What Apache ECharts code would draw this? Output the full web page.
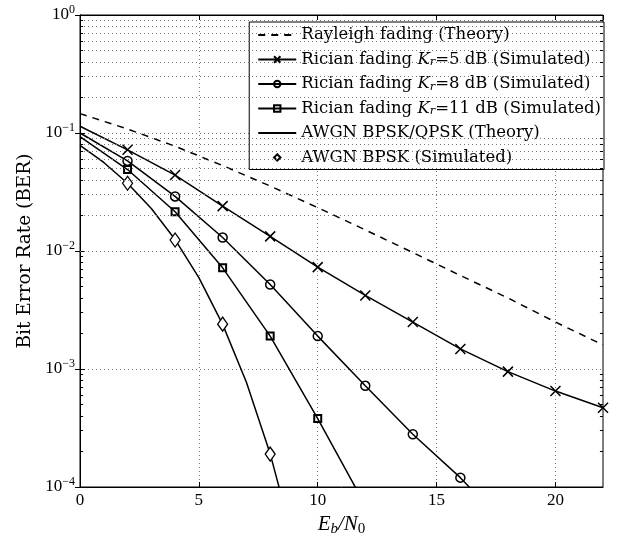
<!DOCTYPE html>
<html>
<head>
<meta charset="utf-8">
<script src="https://cdn.jsdelivr.net/npm/echarts@6/dist/echarts.min.js"></script>
<style>
  html, body { margin: 0; padding: 0; background: #fff; }
  #chart { width: 627px; height: 539px; }
</style>
</head>
<body>
<div id="chart"></div>
<script>
// Eb/N0 points (dB)
var ebnoEven = [0, 2, 4, 6, 8, 10, 12, 14, 16, 18, 20, 22];
var ebnoInt = [0, 1, 2, 3, 4, 5, 6, 7, 8, 9, 10];
var ebnoSim = [2, 4, 6, 8];

// BER
var rayleighBer = [0.146, 0.108, 0.0772, 0.053, 0.0355, 0.0233, 0.0151, 0.0097, 0.0062, 0.0040, 0.0025, 0.0016];
var ricianK5 = [0.114, 0.072, 0.044, 0.024, 0.0133, 0.0073, 0.0042, 0.0025, 0.00148, 0.00095, 0.00065, 0.00047];
var ricianK8 = [0.100, 0.058, 0.029, 0.013, 0.0052, 0.0019, 0.00072, 0.00028, 0.00012, 0.000045];
var ricianK11 = [0.093, 0.049, 0.0215, 0.0072, 0.0019, 0.00038, 0.00007];
var awgnTheory = [0.0786, 0.0563, 0.0375, 0.0229, 0.0125, 0.00595, 0.00239, 0.000773, 0.000191, 0.0000336, 0.0000039];
var awgnSim = [0.0375, 0.0124, 0.0024, 0.00019];

// dotted minor grid values (2..9 x decade)
var minorGrid = [];
[0.0001, 0.001, 0.01, 0.1].forEach(function(d){
    for (var k = 2; k <= 9; k++) minorGrid.push(+(d * k).toPrecision(3));
});

var serif = '"Liberation Serif", "DejaVu Serif", serif';
var wideSerif = '"DejaVu Serif", serif';
var names = [
    'Rayleigh fading (Theory)',
    'Rician fading K_r=5 dB (Simulated)',
    'Rician fading K_r=8 dB (Simulated)',
    'Rician fading K_r=11 dB (Simulated)',
    'AWGN BPSK/QPSK (Theory)',
    'AWGN BPSK (Simulated)'
];

function pairs(xs, ys, markFirst){
    return ys.map(function(y, i){
        var p = {value: [xs[i], y]};
        if (i === 0 && !markFirst) p.symbol = 'none';
        return p;
    });
}

var gridDot = {type: [1, 3], color: '#777', width: 1};
var crossPath = 'path://M0,0L10,10M10,0L0,10';

function markerItem(){
    return {color: 'rgba(0,0,0,0)', borderColor: '#000', borderWidth: 1.5};
}

// short minor tick marks on left and right edges (log axis)
var minorTicks = [];
minorGrid.forEach(function(v){
    minorTicks.push([{coord: [0, v]}, {coord: [0.13, v]}]);
    minorTicks.push([{coord: [21.87, v]}, {coord: [22, v]}]);
});

var option = {
    backgroundColor: '#fff',
    animation: false,
    grid: {left: 80, right: 24, top: 15, bottom: 52, outerBoundsMode: 'none', show: true, borderColor: '#000', borderWidth: 1},
    legend: {
        data: names.map(function(n, i){
            var d = {name: n};
            if (i === 0 || i === 4) d.itemStyle = {opacity: 0};
            return d;
        }),
        orient: 'vertical',
        right: 23,
        top: 22,
        align: 'left',
        backgroundColor: '#fff',
        borderColor: '#000',
        borderWidth: 1,
        borderRadius: 0,
        padding: [4, 3, 3, 8],
        itemGap: 6.5,
        itemWidth: 38,
        itemHeight: 8,
        textStyle: {
            fontFamily: wideSerif, fontSize: 16.5, color: '#000', lineHeight: 18,
            rich: {
                i: {fontFamily: wideSerif, fontSize: 16.5, fontStyle: 'italic', lineHeight: 18},
                s: {fontFamily: wideSerif, fontSize: 11.5, fontStyle: 'italic', lineHeight: 8, verticalAlign: 'bottom'}
            }
        },
        formatter: function(n){
            return n.replace('K_r', '{i|K}{s|r}');
        }
    },
    xAxis: [{
        type: 'value', min: 0, max: 22, interval: 5,
        name: '{i|E}{s|b}{i|/N}{n|0}',
        nameLocation: 'middle', nameGap: 24,
        nameTextStyle: {
            color: '#000',
            rich: {
                i: {fontFamily: serif, fontSize: 21, fontStyle: 'italic', lineHeight: 24},
                s: {fontFamily: serif, fontSize: 15, fontStyle: 'italic', lineHeight: 12, verticalAlign: 'bottom'},
                n: {fontFamily: serif, fontSize: 15, lineHeight: 12, verticalAlign: 'bottom'}
            }
        },
        axisLine: {lineStyle: {color: '#000', width: 1}},
        axisTick: {inside: true, length: 5, lineStyle: {color: '#000'}},
        axisLabel: {
            color: '#000', fontFamily: serif, fontSize: 17, margin: 5,
            showMaxLabel: false,
            formatter: function(v){ return v % 5 === 0 ? String(v) : ''; }
        },
        splitLine: {show: true, lineStyle: gridDot}
    }, {
        type: 'value', min: 0, max: 22, interval: 5, position: 'top',
        axisLine: {lineStyle: {color: '#000'}},
        axisTick: {inside: true, length: 5, lineStyle: {color: '#000'}},
        axisLabel: {show: false},
        splitLine: {show: false}
    }],
    yAxis: [{
        type: 'log', logBase: 10, min: 0.0001, max: 1,
        name: 'Bit Error Rate (BER)',
        nameLocation: 'middle', nameGap: 37,
        nameTextStyle: {color: '#000', fontFamily: wideSerif, fontSize: 18.5},
        axisLine: {lineStyle: {color: '#000', width: 1}},
        axisTick: {inside: true, length: 5, lineStyle: {color: '#000'}},
        axisLabel: {
            color: '#000', margin: 5,
            formatter: function(v){
                var e = Math.round(Math.log10(v));
                return '{b|10}{e|' + (e < 0 ? '\u2212' + (-e) : e) + '}';
            },
            rich: {
                b: {fontFamily: serif, fontSize: 17, color: '#000', lineHeight: 22},
                e: {fontFamily: serif, fontSize: 12, color: '#000', lineHeight: 10, verticalAlign: 'top'}
            }
        },
        splitLine: {show: true, lineStyle: gridDot}
    }, {
        type: 'log', logBase: 10, min: 0.0001, max: 1, position: 'right',
        axisLine: {lineStyle: {color: '#000'}},
        axisTick: {inside: true, length: 5, lineStyle: {color: '#000'}},
        axisLabel: {show: false},
        splitLine: {show: false}
    }],
    series: [
        {
            name: 'minor-grid', type: 'line', data: [], silent: true, z: 0,
            markLine: {
                silent: true, symbol: 'none', animation: false,
                label: {show: false},
                lineStyle: gridDot,
                data: minorGrid.map(function(v){ return {yAxis: v}; })
            }
        },
        {
            name: 'minor-ticks', type: 'line', data: [], silent: true, z: 1,
            markLine: {
                silent: true, symbol: 'none', animation: false,
                label: {show: false},
                lineStyle: {type: 'solid', color: '#000', width: 1},
                data: minorTicks
            }
        },
        {
            name: names[0], type: 'line', symbol: 'none',
            lineStyle: {color: '#000', width: 1.5, type: [7, 6]},
            itemStyle: {color: '#000'},
            data: pairs(ebnoEven, rayleighBer, true)
        },
        {
            name: names[1], type: 'line', symbol: crossPath, symbolSize: 10,
            lineStyle: {color: '#000', width: 1.5},
            itemStyle: markerItem(),
            data: pairs(ebnoEven, ricianK5)
        },
        {
            name: names[2], type: 'line', symbol: 'circle', symbolSize: 9,
            lineStyle: {color: '#000', width: 1.5},
            itemStyle: markerItem(),
            data: pairs(ebnoEven, ricianK8)
        },
        {
            name: names[3], type: 'line', symbol: 'rect', symbolSize: 7,
            lineStyle: {color: '#000', width: 1.5},
            itemStyle: {color: 'rgba(0,0,0,0)', borderColor: '#000', borderWidth: 2},
            data: pairs(ebnoEven, ricianK11)
        },
        {
            name: names[4], type: 'line', symbol: 'none',
            lineStyle: {color: '#000', width: 1.5},
            itemStyle: {color: '#000'},
            data: pairs(ebnoInt, awgnTheory, true)
        },
        {
            name: names[5], type: 'line', symbol: 'diamond', symbolSize: [10, 14],
            lineStyle: {width: 0, opacity: 0},
            itemStyle: {color: '#fff', borderColor: '#000', borderWidth: 1.3},
            z: 3,
            data: pairs(ebnoSim, awgnSim, true)
        }
    ]
};

var myChart = echarts.init(document.getElementById('chart'));
myChart.setOption(option);
</script>
</body>
</html>
